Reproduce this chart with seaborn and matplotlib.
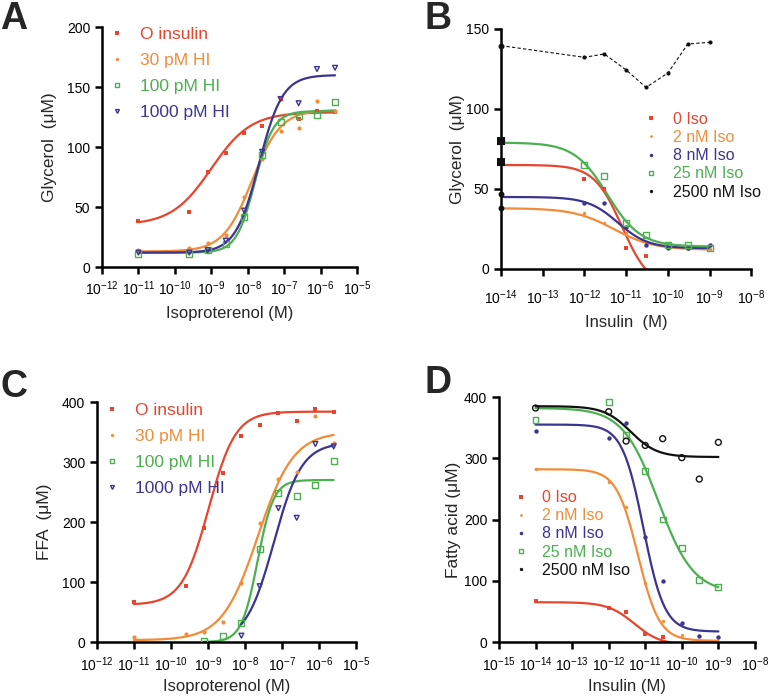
import numpy as np
import pandas as pd
import matplotlib
matplotlib.use("Agg")
import matplotlib.pyplot as plt
import seaborn as sns
from matplotlib.lines import Line2D
from matplotlib.ticker import LogLocator, NullLocator, LogFormatterSciNotation

sns.set_style("ticks")
plt.rcParams["font.family"] = ["Liberation Sans", "DejaVu Sans"]
plt.rcParams["mathtext.fontset"] = "custom"
plt.rcParams["mathtext.rm"] = "Liberation Sans"
plt.rcParams["mathtext.it"] = "Liberation Sans:italic"
plt.rcParams["mathtext.default"] = "regular"

RED, ORANGE, GREEN, BLUE, BLACK = "#e8452e", "#f28c38", "#4cb050", "#3b3591", "#111111"

# ---- A / C : isoproterenol dose response, insulin pre-treatment
iso_conc = [1e-11, 2.5e-10, 8e-10, 2.5e-9, 8e-9, 2.5e-8, 8e-8, 2.5e-7, 8e-7, 2.5e-6]
hi_labels = ["O insulin", "30 pM HI", "100 pM HI", "1000 pM HI"]

glyc_0 = [38, 46, 79, 95, 112, 117.5, 140, 123, 130, 129]
glyc_30 = [14.5, 16, 20, 26.5, 58.5, 90, 113, 116, 138, 130]
glyc_100 = [11, 11, 14.5, 19, 42, 93, 121, 126, 127, 137.6]
glyc_1000 = [12, 12, 14, 22, 47, 96, 140, 136.5, 165, 166]

ffa_0 = [67, 94, 190, 282, 344, 362, 381, 369, 389, 383]
ffa_30 = [8, 14, 16, 34, 98, 198, 272, 284, 377, 332]
ffa_100 = [np.nan, np.nan, 1, 10.5, 31.7, 155, 248, 244, 261, 301]
ffa_1000 = [np.nan, np.nan, np.nan, np.nan, 10.5, 93, 223, 207, 330, 326]

# sigmoid fits: bottom, top, logEC50, hill, log x start
fit_glyc = [[35, 129, -9.0, 0.8, -11], [13, 131, -7.88, 1.1, -11],
            [12, 130, -7.8, 1.7, -11], [12, 160, -7.69, 1.34, -11]]
fit_ffa = [[62, 384, -8.98, 1.2, -11], [3, 350, -7.65, 0.9, -11],
           [0, 270, -7.66, 2.0, -9.1], [0, 332, -7.22, 1.15, -8.1]]

# ---- B / D : insulin dose response at several isoproterenol levels
ins_conc = [1e-14, 1e-12, 3e-12, 1e-11, 3e-11, 1e-10, 3e-10, 1e-9]
iso_labels = ["0 Iso", "2 nM Iso", "8 nM Iso", "25 nM Iso", "2500 nM Iso"]

glyb_0 = [67, 56, 50, 13, 8, np.nan, np.nan, np.nan]
glyb_2 = [38, 35, 29, 22.5, 15, 13, 12.5, 12.5]
glyb_8 = [47, 41, 41, 26, 15, 13, 13, 15]
glyb_25 = [80, 65, 58, 29, 21, 15, 15, 13]
glyb_2500 = [139.6, 132.3, 134.4, 124.4, 113.5, 122.5, 140.6, 141.7]

fa_0 = [67, 56, 49, 12.5, 8, np.nan, np.nan, np.nan]
fa_2 = [282, 262, 220, 96, 34, 11, np.nan, np.nan]
fa_8 = [345, 333, 358, 171, 99, 31, 10, 8.5]
fa_25 = [362, 392, 338, 279, 200, 154, 101, 90]
fa_2500 = [382, 376, 328, 321, 332, 301, 266, 326]

fit_glyb = [[-12, 65, -11.1, 1.3], [12, 38, -11.3, 0.9],
            [13, 45, -11.2, 1.2], [14, 79, -11.45, 1.1]]
fit_fa = [[-5, 65, -11.3, 1.2], [2, 282, -11.2, 1.48], [17, 355, -11.05, 1.5],
          [80, 382, -10.65, 0.9], [302, 385, -11.4, 1.2]]

# marker style per series: marker, size, filled
sty_hi = [("s", 12, True), ("o", 9, True), ("s", 18, False), ("v", 12, False)]
sty_iso = [("s", 12, True), ("o", 6, True), ("o", 10, True), ("s", 18, False), ("o", 9, True)]
col_hi = [RED, ORANGE, GREEN, BLUE]
col_iso = [RED, ORANGE, BLUE, GREEN, BLACK]


def curve(p, lo, hi, rising):
    lx = np.linspace(lo, hi, 200)
    b, t, c, h = p[:4]
    s = (c - lx) * h if rising else (lx - c) * h
    return pd.DataFrame({"x": 10 ** lx, "y": b + (t - b) / (1 + 10 ** s)})


def points(ax, x, y, col, st, clip=True):
    m, s, filled = st
    if filled:
        sns.scatterplot(x=x, y=y, ax=ax, marker=m, s=s, color=col, linewidth=0, clip_on=clip, zorder=4)
    else:
        sns.scatterplot(x=x, y=y, ax=ax, marker=m, s=s, fc="none", ec=col, linewidth=1.0, clip_on=clip, zorder=4)


def style_axis(ax, xlim, ylim, yticks, xlabel, ylabel, xpad, xlpad, ylpad):
    ax.set_xscale("log")
    ax.set_xlim(*xlim)
    ax.set_ylim(*ylim)
    ax.set_yticks(yticks)
    ax.xaxis.set_major_locator(LogLocator(base=10, numticks=20))
    ax.xaxis.set_major_formatter(LogFormatterSciNotation())
    ax.xaxis.set_minor_locator(NullLocator())
    sns.despine(ax=ax)
    for sp in ("left", "bottom"):
        ax.spines[sp].set_linewidth(1.8)
        ax.spines[sp].set_color("black")
    ax.tick_params(direction="out", length=5, width=1.8, labelsize=10, colors="black")
    ax.tick_params(axis="x", pad=xpad)
    ax.set_xlabel(xlabel, fontsize=12, labelpad=xlpad)
    ax.set_ylabel(ylabel, fontsize=12.5, labelpad=ylpad)


def legend(ax, labels, cols, stys, anchor, fs, spacing):
    hs = []
    for c, (m, s, filled) in zip(cols, stys):
        ms = np.sqrt(s) * 0.8
        hs.append(Line2D([], [], linestyle="none", marker=m, markersize=ms,
                         markerfacecolor=c if filled else "none", markeredgecolor=c,
                         markeredgewidth=0 if filled else 1.0))
    leg = ax.legend(hs, labels, loc="upper left", bbox_to_anchor=anchor, frameon=False,
                    fontsize=fs, handlelength=0.5, handletextpad=1.1, labelspacing=spacing,
                    borderaxespad=0, borderpad=0)
    for t, c in zip(leg.get_texts(), cols):
        t.set_color(c)


fig = plt.figure(figsize=(7.68, 6.97), dpi=100)
axA = fig.add_axes([0.1328, 0.6169, 0.332, 0.3443])
axB = fig.add_axes([0.6523, 0.6141, 0.326, 0.3443])
axC = fig.add_axes([0.1263, 0.0789, 0.3372, 0.3443])
axD = fig.add_axes([0.6497, 0.0789, 0.3333, 0.3515])

# ---- A
for ys, p, c, st in zip([glyc_0, glyc_30, glyc_100, glyc_1000], fit_glyc, col_hi, sty_hi):
    d = curve(p, p[4], np.log10(iso_conc[-1]), True)
    sns.lineplot(data=d, x="x", y="y", ax=axA, color=c, linewidth=1.6)
    points(axA, iso_conc, ys, c, st)
style_axis(axA, (1e-12, 1e-5), (0, 200), [0, 50, 100, 150, 200],
           "Isoproterenol (M)", "Glycerol  (\u03bcM)", 4, 6, 7)
legend(axA, hi_labels, col_hi, sty_hi, (0.04, 1.0), 12.5, 0.62)

# ---- B
for ys, p, c, st in zip([glyb_0, glyb_2, glyb_8, glyb_25], fit_glyb, col_iso, sty_iso):
    d = curve(p, -14, -9, False)
    sns.lineplot(data=d, x="x", y="y", ax=axB, color=c, linewidth=1.6)
    points(axB, ins_conc, ys, c, st, clip=False)
    # points at the y axis look black in the original
    points(axB, ins_conc[:1], ys[:1], BLACK, (st[0], 28 if st[0] == "s" else 18, True), clip=False)
sns.lineplot(x=ins_conc, y=glyb_2500, ax=axB, color=BLACK, linewidth=0.8, linestyle=(0, (3, 2)))
points(axB, ins_conc, glyb_2500, BLACK, sty_iso[4], clip=False)
points(axB, ins_conc[:1], glyb_2500[:1], BLACK, ("o", 18, True), clip=False)
style_axis(axB, (1e-14, 1e-8), (0, 150), [0, 50, 100, 150],
           "Insulin  (M)", "Glycerol  (\u03bcM)", 9, 6, 1)
legend(axB, iso_labels, col_iso, sty_iso, (0.585, 0.655), 11.5, 0.2)

# ---- C
for ys, p, c, st in zip([ffa_0, ffa_30, ffa_100, ffa_1000], fit_ffa, col_hi, sty_hi):
    d = curve(p, p[4], np.log10(iso_conc[-1]), True)
    sns.lineplot(data=d, x="x", y="y", ax=axC, color=c, linewidth=1.6)
    points(axC, iso_conc, ys, c, st)
style_axis(axC, (1e-12, 1e-5), (0, 400), [0, 100, 200, 300, 400],
           "Isoproterenol (M)", "FFA  (\u03bcM)", 5, 3, 7)
legend(axC, hi_labels, col_hi, sty_hi, (0.04, 0.995), 12.5, 0.62)

# ---- D
for ys, p, c, st in zip([fa_0, fa_2, fa_8, fa_25, fa_2500], fit_fa, col_iso, sty_iso):
    d = curve(p, -14, -9, False)
    sns.lineplot(data=d, x="x", y="y", ax=axD, color=c, linewidth=1.6)
    stD = ("o", 18, False) if c == BLACK else st
    points(axD, ins_conc, ys, c, stD)
style_axis(axD, (1e-15, 1e-8), (0, 400), [0, 100, 200, 300, 400],
           "Insulin (M)", "Fatty acid (\u03bcM)", 5, 3, 2)
legend(axD, iso_labels, col_iso, sty_iso, (0.07, 0.62), 11.5, 0.2)

# panel letters
for lab, x, y in [("A", 0.0, 0.998), ("B", 0.553, 0.998), ("C", 0.0, 0.47), ("D", 0.553, 0.477)]:
    fig.text(x, y, lab, fontsize=27, fontweight="bold", va="top", ha="left")

fig.savefig("out.png", dpi=100)
